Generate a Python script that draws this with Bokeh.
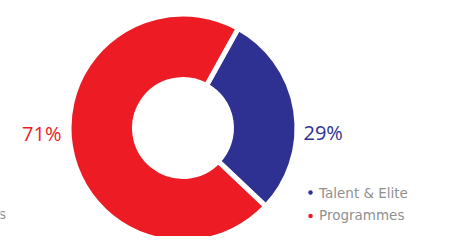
import math
from bokeh.plotting import figure
from bokeh.models import Range1d, ColumnDataSource
from bokeh.core.properties import value
from bokeh.embed import file_html
from bokeh.resources import INLINE

categories = ["Talent & Elite", "Programmes"]
shares = [29, 71]
labels = ["29%", "71%"]
colors = ["#2E3192", "#ED1C24"]

W, H = 442, 236
# data coordinates: x = reference pixel x, y = 244 - reference pixel y
p = figure(width=W, height=H, output_backend="svg", toolbar_location=None,
           x_range=Range1d(0, W), y_range=Range1d(244 - H, 244),
           min_border=0)
p.axis.visible = False
p.grid.visible = False
p.outline_line_color = None
p.background_fill_color = "white"
p.border_fill_color = "white"

cx, cy = 182.5, 244 - 127.5
gap = 5
r_out = 111.5 + gap / 2
r_in = 51 - gap / 2

start_cw = 29.0  # degrees clockwise from 12 o'clock where first slice starts
total = sum(shares)
starts, ends = [], []
acc = start_cw
for s in shares:
    a0 = acc
    a1 = acc + 360.0 * s / total
    starts.append(math.radians(90 - a1))
    ends.append(math.radians(90 - a0))
    acc = a1

src = ColumnDataSource(dict(x=[cx] * 2, y=[cy] * 2, start=starts, end=ends,
                            color=colors, cat=categories))
p.annular_wedge(x="x", y="y", inner_radius=r_in, outer_radius=r_out,
                start_angle="start", end_angle="end", fill_color="color",
                line_color="white", line_width=gap, source=src)

font = value("Open Sans")
p.text(x=[303], y=[244 - 132], text=[labels[0]], text_color=colors[0],
       text_font=font, text_font_size="20px", text_align="left",
       text_baseline="alphabetic")
p.text(x=[61], y=[244 - 133], text=[labels[1]], text_color=colors[1],
       text_font=font, text_font_size="20px", text_align="right",
       text_baseline="alphabetic")

# legend
lfont = value("DejaVu Sans")
ly = [244 - 192, 244 - 215.5]
p.scatter(x=[310, 310], y=ly, size=4.5, color=colors, line_color=None)
p.text(x=[318.5, 318.5], y=[244 - 192, 244 - 214], text=categories,
       text_color="#909090", text_font=lfont, text_font_size="13.5px",
       text_align="left", text_baseline="alphabetic")
# clipped legend remnant at left edge
p.text(x=[-1.5], y=[244 - 213], text=["s"], text_color="#909090",
       text_font=lfont, text_font_size="13.5px", text_align="left",
       text_baseline="alphabetic")

open("out.html", "w").write(file_html(p, INLINE))
